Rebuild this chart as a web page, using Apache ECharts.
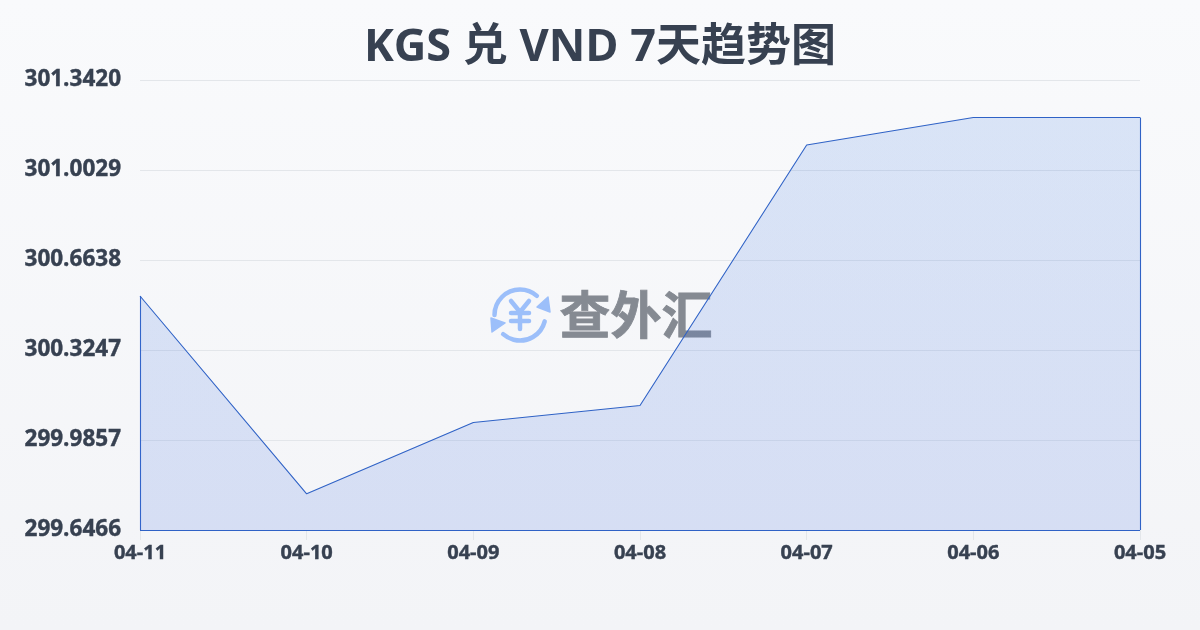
<!DOCTYPE html>
<html>
<head>
<meta charset="utf-8">
<style>html,body{margin:0;padding:0;width:1200px;height:630px;overflow:hidden}#c{width:1200px;height:630px}</style>
<script src="https://cdn.jsdelivr.net/npm/echarts@6/dist/echarts.min.js"></script>
</head>
<body>
<div id="c"></div>
<script>
const titleText = 'KGS 兑 VND 7天趋势图';
const categories = ['04-11','04-10','04-09','04-08','04-07','04-06','04-05'];
const rates = [300.5282, 299.783, 300.0516, 300.1157, 301.0971, 301.2007, 301.2007];
const tickLabels = ['299.6466','299.9857','300.3247','300.6638','301.0029','301.3420'];
const yMin = 299.6466;
const yStep = 0.33907;
const yMax = 301.342;
const FONT = '"Open Sans","Noto Sans CJK SC",sans-serif';
const LINE = '#2f62c6';
const TEXT = '#374151';
const ICON = '#9cbffa';
const edgeStyle = {color: LINE, width: 1.1, type: 'solid', opacity: 1};
const last = categories.length - 1;
const iconLine = {fill: 'none', stroke: ICON, lineWidth: 4.5, lineCap: 'round'};

const chart = echarts.init(document.getElementById('c'), null, {renderer: 'canvas'});
chart.setOption({
  animation: false,
  backgroundColor: new echarts.graphic.LinearGradient(0, 0, 0, 1, [
    {offset: 0, color: '#f9fafc'}, {offset: 1, color: '#f3f4f7'}
  ]),
  title: {
    text: titleText, left: 'center', top: 21,
    textStyle: {fontFamily: FONT, fontSize: 45, fontWeight: 'bold', color: TEXT}
  },
  grid: {left: 140, right: 60, top: 80, bottom: 100, containLabel: false},
  xAxis: {
    type: 'category', data: categories, boundaryGap: false,
    axisLine: {show: false},
    axisTick: {show: true, length: 10, lineStyle: {color: '#e3e6ea'}},
    axisLabel: {fontFamily: FONT, fontSize: 20, fontWeight: 'bold', color: TEXT, textBorderColor: TEXT, textBorderWidth: 0.4, margin: 13, showMinLabel: true, showMaxLabel: true, interval: 0},
    splitLine: {show: false}
  },
  yAxis: {
    type: 'value', min: yMin, max: yMax, interval: yStep,
    axisLine: {show: false}, axisTick: {show: false},
    axisLabel: {
      fontFamily: FONT, fontSize: 22.5, fontWeight: 'bold', color: TEXT, textBorderColor: TEXT, textBorderWidth: 0.4, margin: 19, padding: [0, 0, 4, 0],
      formatter: (v, i) => tickLabels[i]
    },
    splitLine: {lineStyle: {color: '#e3e6ea', width: 1}}
  },
  graphic: [
    {type: 'group', x: 520, y: 315, z: 1, children: [
      {type: 'arc', shape: {cx: 0, cy: 0, r: 25.5, startAngle: -Math.PI * 1.0, endAngle: -Math.PI * 0.27}, style: iconLine},
      {type: 'polygon', shape: {points: [[28, -18], [30, -3], [17, -8]]}, style: {fill: ICON, stroke: ICON, lineWidth: 1.5, lineJoin: 'round'}},
      {type: 'arc', shape: {cx: 0, cy: 0, r: 25.5, startAngle: 0.08 * Math.PI, endAngle: Math.PI * 0.73}, style: iconLine},
      {type: 'polygon', shape: {points: [[-29, 3], [-15, 8], [-28, 17]]}, style: {fill: ICON, stroke: ICON, lineWidth: 1.5, lineJoin: 'round'}},
      {type: 'line', shape: {x1: -9, y1: -14, x2: 0, y2: -3}, style: iconLine},
      {type: 'line', shape: {x1: 9, y1: -14, x2: 0, y2: -3}, style: iconLine},
      {type: 'line', shape: {x1: -9, y1: -2, x2: 9, y2: -2}, style: iconLine},
      {type: 'line', shape: {x1: -9, y1: 6, x2: 9, y2: 6}, style: iconLine},
      {type: 'line', shape: {x1: 0, y1: -3, x2: 0, y2: 14}, style: iconLine}
    ]},
    {type: 'text', left: 559, top: 289, z: 1, style: {text: '查外汇', fontFamily: '"Noto Sans CJK SC"', fontSize: 51, fontWeight: 'bold', fill: '#858a92', stroke: '#858a92', lineWidth: 0.8}}
  ],
  series: [{
    type: 'line', data: rates, symbol: 'none', smooth: false, z: 5,
    lineStyle: {color: LINE, width: 1.1},
    areaStyle: {
      origin: 'start', opacity: 1,
      color: new echarts.graphic.LinearGradient(0, 0, 0, 1, [
        {offset: 0, color: 'rgba(66,124,224,0.17)'}, {offset: 1, color: 'rgba(66,110,224,0.17)'}
      ])
    },
    markLine: {
      silent: true, symbol: 'none', label: {show: false}, lineStyle: edgeStyle, animation: false,
      data: [
        [{coord: [categories[0], yMin]}, {coord: [categories[0], rates[0]]}],
        [{coord: [categories[0], yMin]}, {coord: [categories[last], yMin]}],
        [{coord: [categories[last], yMin]}, {coord: [categories[last], rates[last]]}]
      ]
    }
  }]
});
</script>
</body>
</html>
